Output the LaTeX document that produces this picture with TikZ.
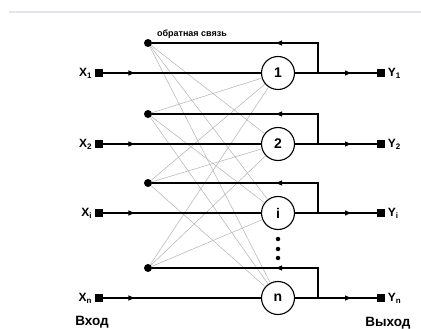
\documentclass[tikz,border=0pt]{standalone}
\usepackage{fontspec}
\setmainfont{Liberation Sans}
\usetikzlibrary{arrows.meta,decorations.markings}
\definecolor{topline}{RGB}{226,226,240}

\begin{document}
\begin{tikzpicture}[x=1pt,y=-1pt,
  neuron/.style={draw,circle,line width=1.1pt,minimum size=33pt,inner sep=0pt,
    font=\fontsize{14}{14}\selectfont\bfseries},
  port/.style={fill=black,minimum size=8.5pt,inner sep=0pt},
  junction/.style={fill=black,circle,minimum size=8pt,inner sep=0pt},
  wire/.style={line width=1.1pt},
  weight/.style={black!30,line width=0.5pt},
  midarrow/.style={postaction={decorate},decoration={markings,
    mark=at position #1 with {\arrow{Triangle[length=6pt,width=5pt]}}}},
  lbl/.style={font=\fontsize{12}{12}\selectfont\bfseries}]
\useasboundingbox (0,0) rectangle (421,329);
\draw[line width=2pt,topline] (9,12) -- (421,12);
% neurons, inputs, outputs, feedback points
\foreach \k/\y/\t in {1/73/1,2/144/2,3/213/i,4/298/n} {
  \node[neuron] (n\k) at (278,\y) {\t};
  \node[port,label={[lbl,label distance=-1pt]left:X\textsubscript{\t}}] (x\k) at (99,\y) {};
  \node[port,label={[lbl,label distance=-1pt]right:Y\textsubscript{\t}}] (y\k) at (381,\y) {};
  \node[junction] (d\k) at (148,\y-30) {};
  \coordinate (j\k) at (318,\y);
}
% dots between i and n
\foreach \v/\y in {1/239,2/249,3/258}
  \node[circle,fill,minimum size=4.5pt,inner sep=0pt] (v\v) at (278,\y) {};
% weights
\foreach \a in {1,...,4}
  \foreach \b in {1,...,4}
    {\ifnum\a=\b\else\draw[weight] (d\a) -- (n\b);\fi}
% wires
\foreach \k in {1,...,4} {
  \draw[wire,midarrow=31pt] (x\k) -- (n\k);
  \draw[wire,midarrow=56pt] (n\k) -- (y\k);
  \draw[wire,midarrow=72pt] (j\k) |- (d\k);
}
\node[font=\fontsize{9}{9}\selectfont\bfseries] (fb) at (192,34) {обратная связь};
\node[font=\fontsize{13.5}{13.5}\selectfont\bfseries] (in) at (92,322) {Вход};
\node[font=\fontsize{13.5}{13.5}\selectfont\bfseries] (out) at (388,323) {Выход};
\end{tikzpicture}
\end{document}
